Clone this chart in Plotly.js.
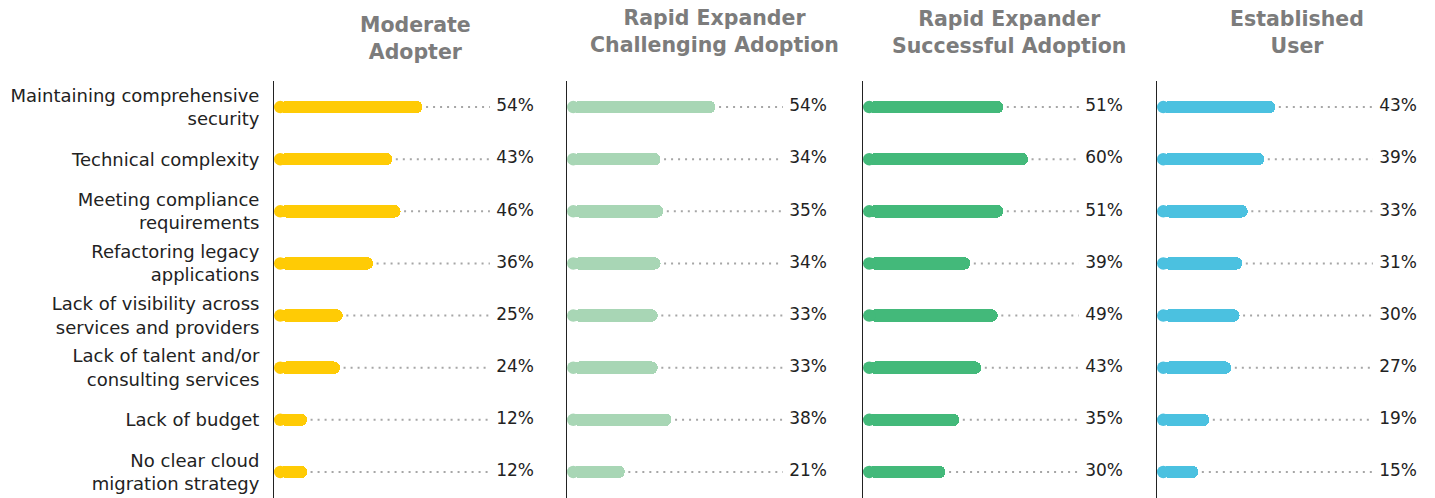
<!DOCTYPE html>
<html>
<head>
<meta charset="utf-8">
<script src="https://cdn.plot.ly/plotly-3.0.1.min.js"></script>
<style>html,body{margin:0;padding:0;background:#fff;}#chart{width:1435px;height:498px;}</style>
</head>
<body>
<div id="chart"></div>
<script>
const categories = [
  "Maintaining comprehensive<br>security",
  "Technical complexity",
  "Meeting compliance<br>requirements",
  "Refactoring legacy<br>applications",
  "Lack of visibility across<br>services and providers",
  "Lack of talent and/or<br>consulting services",
  "Lack of budget",
  "No clear cloud<br>migration strategy"
];
const panelTitles = [
  "Moderate<br>Adopter",
  "Rapid Expander<br>Challenging Adoption",
  "Rapid Expander<br>Successful Adoption",
  "Established<br>User"
];
const moderateAdopter = [54, 43, 46, 36, 25, 24, 12, 12];
const challengingAdoption = [54, 34, 35, 34, 33, 33, 38, 21];
const successfulAdoption = [51, 60, 51, 39, 49, 43, 35, 30];
const establishedUser = [43, 39, 33, 31, 30, 27, 19, 15];

const series = [moderateAdopter, challengingAdoption, successfulAdoption, establishedUser];
const colors = ["#FFCB05", "#A8D6B5", "#43B97A", "#4BC1E0"];

const FONT = "DejaVu Sans, sans-serif";
const W = 1435;
const axisPx = [274, 567, 863, 1157];
const panelPx = 275;           // 100 data units
const pxPerUnit = panelPx / 100;
const barWidthCat = 0.24;
const rowPx = 417 / 8;
const barPx = barWidthCat * rowPx;
const capR = (barPx / 2) / pxPerUnit;   // rounded left cap radius in data units
const titleCenterPx = [415, 714, 1009, 1297];
const titleShift = [43, 50, 49, 49];
const dotEnd = 78.5;
const labelX = 80.8;

const traces = [];
const layout = {
  width: 1435, height: 498,
  margin: {l: 0, r: 0, t: 81, b: 0},
  paper_bgcolor: "#fff", plot_bgcolor: "rgba(0,0,0,0)",
  showlegend: false,
  font: {family: FONT, color: "#222"},
  annotations: [],
  bargap: 0
};

series.forEach((vals, k) => {
  const sfx = k === 0 ? "" : String(k + 1);
  const xa = "x" + sfx, ya = "y" + sfx;
  // dotted connector
  const dx = [], dy = [];
  vals.forEach((v, i) => { dx.push(v + 1.3, dotEnd, null); dy.push(categories[i], categories[i], null); });
  traces.push({type: "scatter", mode: "lines", x: dx, y: dy, xaxis: xa, yaxis: ya,
    line: {color: "#a6a6a6", width: 2, dash: "2px,5px"}, hoverinfo: "skip", connectgaps: false});
  // bars (rounded right end via cornerradius)
  traces.push({type: "bar", orientation: "h", x: vals.map(v => v - capR), base: capR, y: categories,
    xaxis: xa, yaxis: ya, width: barWidthCat,
    marker: {color: colors[k], cornerradius: 7, line: {width: 0}}, hoverinfo: "skip"});
  // rounded left caps
  traces.push({type: "scatter", mode: "markers", x: vals.map(() => capR), y: categories,
    xaxis: xa, yaxis: ya, marker: {color: colors[k], size: barPx, line: {width: 0}}, hoverinfo: "skip"});
  // labels
  traces.push({type: "scatter", mode: "text", x: vals.map(() => labelX), y: categories,
    text: vals.map(v => v + "%"), textposition: "middle right", xaxis: xa, yaxis: ya,
    textfont: {family: FONT, size: 17, color: "#222"}, hoverinfo: "skip"});

  const d0 = axisPx[k] / W, d1 = Math.min(1, (axisPx[k] + panelPx) / W);
  layout["xaxis" + sfx] = {domain: [d0, d1], range: [0, 100 * (d1 - d0) * W / panelPx], anchor: ya,
    showgrid: false, zeroline: false, showticklabels: false, ticks: "", showline: false, fixedrange: true};
  layout["yaxis" + sfx] = {anchor: xa, type: "category", categoryarray: categories, range: [7.5, -0.5],
    showgrid: false, zeroline: false, ticks: "", showline: true, linecolor: "#222", linewidth: 1,
    showticklabels: k === 0, ticklabelstandoff: 10,
    tickfont: {family: FONT, size: 18, color: "#222"}, fixedrange: true};
  layout.annotations.push({text: "<b>" + panelTitles[k] + "</b>", xref: "paper", yref: "paper",
    x: titleCenterPx[k] / W, y: 1, yshift: titleShift[k], xanchor: "center", yanchor: "middle",
    showarrow: false, align: "center",
    font: {family: FONT, size: 20.5, color: "#7c7c7c"}});
});

Plotly.newPlot("chart", traces, layout, {displayModeBar: false, staticPlot: true});
</script>
</body>
</html>
